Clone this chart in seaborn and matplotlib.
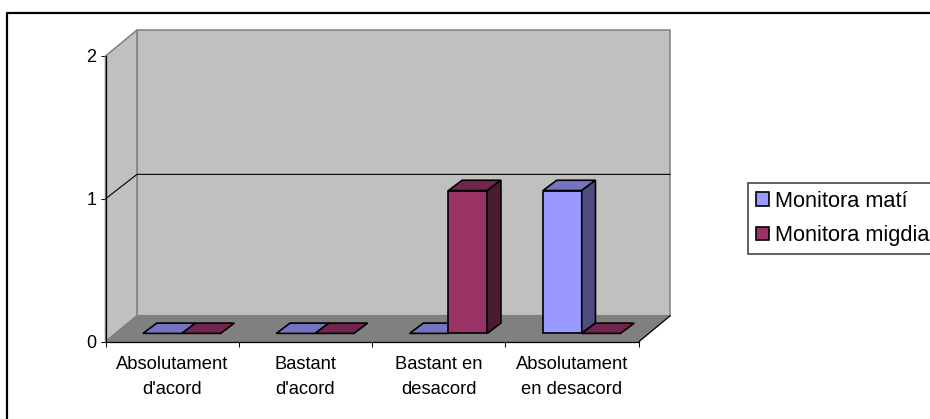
import pandas as pd
import matplotlib
matplotlib.use("Agg")
import matplotlib.pyplot as plt
import seaborn as sns
from matplotlib.lines import Line2D
from matplotlib.patches import Polygon, Rectangle
from matplotlib.transforms import Affine2D

# data
categories = ["Absolutament\nd'acord", "Bastant\nd'acord", "Bastant en\ndesacord", "Absolutament\nen desacord"]
series_names = ["Monitora matí", "Monitora migdia"]
mati = [0, 0, 0, 1]
migdia = [0, 0, 1, 0]
yticks = [0, 1, 2]

front = ["#9999FF", "#993366"]
top = ["#7373BF", "#73264D"]
side = ["#4D4D80", "#4D1A33"]

sns.set_theme(style="white")
plt.rcParams["font.family"] = ["Liberation Sans", "DejaVu Sans"]

W, H = 930, 419
fig = plt.figure(figsize=(W / 100, H / 100), dpi=100)

# front plane of the fake 3d box, in pixels
left, right, y0, y2 = 105.5, 638.7, 341.7, 56.0
ax = fig.add_axes([left / W, 1 - y0 / H, (right - left) / W, (y0 - y2) / H])
ax.patch.set_alpha(0)

df = pd.DataFrame({
    "cat": categories * 2,
    "val": mati + migdia,
    "serie": [series_names[0]] * 4 + [series_names[1]] * 4,
})
sns.barplot(data=df, x="cat", y="val", hue="serie", palette=front, width=0.582, gap=0,
            edgecolor="black", linewidth=1.2, saturation=1, ax=ax, zorder=5)
ax.set_xlim(-0.5, 3.5)
ax.set_ylim(0, 2)
ax.set_xlabel("")
ax.set_ylabel("")

# depth of the box in data units
px_x = 4 / (right - left)
px_y = 2 / (y0 - y2)
dx, dy = 31.5 * px_x, 26 * px_y
xl, xr = -0.5, 3.5


def wall(pts, color, edge, z=1):
    ax.add_patch(Polygon(pts, closed=True, facecolor=color, edgecolor=edge, linewidth=1.1,
                         clip_on=False, zorder=z))


wall([(xl + dx, dy), (xr + dx, dy), (xr + dx, 2 + dy), (xl + dx, 2 + dy)], "#C0C0C0", "#808080")
wall([(xl, 0), (xl + dx, dy), (xl + dx, 2 + dy), (xl, 2)], "#C0C0C0", "#808080")
wall([(xl, 0), (xr, 0), (xr + dx, dy), (xl + dx, dy)], "#808080", "#808080")
ax.plot([xr, xr + dx], [0, dy], color="black", lw=0.8, clip_on=False, zorder=2)
ax.plot([xl, xl + dx, xr + dx], [1, 1 + dy - 1.5 * px_y, 1 + dy - 1.5 * px_y], color="black", lw=0.8,
        clip_on=False, zorder=2)

# bars sit a bit behind the front edge, sides and tops by hand
off_x, off_y = 9.7 * px_x, 8.3 * px_y
bd_x, bd_y = 13.7 * px_x, 10.3 * px_y
shift = Affine2D().translate(off_x, off_y) + ax.transData
bars = []
for i, cont in enumerate(ax.containers):
    for j, bar in enumerate(cont):
        bars.append((j, i, bar))
for j, i, bar in sorted(bars, key=lambda b: (b[0], b[1])):
    z = 5 + j * 2 + i * 0.5
    bar.set_transform(shift)
    bar.set_clip_on(False)
    bar.set_zorder(z)
    x1 = bar.get_x() + off_x
    x2 = x1 + bar.get_width()
    b = off_y
    t = off_y + bar.get_height()
    ax.add_patch(Polygon([(x1, t), (x2, t), (x2 + bd_x, t + bd_y), (x1 + bd_x, t + bd_y)], closed=True,
                         facecolor=top[i], edgecolor="black", linewidth=1.2, clip_on=False, zorder=z))
    if bar.get_height() > 0:
        ax.add_patch(Polygon([(x2, b), (x2 + bd_x, b + bd_y), (x2 + bd_x, t + bd_y), (x2, t)], closed=True,
                             facecolor=side[i], edgecolor="black", linewidth=1.2, clip_on=False, zorder=z))

sns.despine(ax=ax, top=True, right=True)
for s in ["left", "bottom"]:
    ax.spines[s].set_color("black")
    ax.spines[s].set_linewidth(0.9)
    ax.spines[s].set_zorder(3)
ax.set_yticks(yticks)
ax.set_xticks(range(4))
ax.set_xticks([0.5, 1.5, 2.5, 3.5, -0.5], minor=True)
ax.tick_params(axis="x", which="major", length=0, labelsize=13.2, labelcolor="black", pad=10)
ax.tick_params(axis="x", which="minor", bottom=True, length=3.6, width=0.7, color="black")
ax.tick_params(axis="y", left=True, length=3.6, width=0.7, color="black", labelsize=13, labelcolor="black", pad=3)
for lab in ax.get_xticklabels():
    lab.set_linespacing(1.65)

# legend box runs off to the edge of the frame
handles = [Rectangle((0, 0), 1, 1, facecolor=c, edgecolor="black", linewidth=1.2) for c in front]
old = ax.get_legend()
if old is not None:
    old.remove()
leg = fig.legend(handles, series_names, loc="upper left", bbox_to_anchor=(748 / W, 1 - 182.7 / H), frameon=True,
                 fancybox=False, edgecolor="#555555", framealpha=1, fontsize=15.7, handlelength=0.58,
                 handleheight=0.58, handletextpad=0.3, labelspacing=0.62, borderpad=0.37, borderaxespad=0,
                 labelcolor="black")
leg.get_frame().set_linewidth(1.3)

# outer chart frame, only left and top stay inside the crop
fig.add_artist(Line2D([7.3 / W, 7.3 / W, 1], [0, 1 - 12.7 / H, 1 - 12.7 / H], color="black", linewidth=1.6,
                      transform=fig.transFigure))

fig.savefig("out.png", dpi=100)
